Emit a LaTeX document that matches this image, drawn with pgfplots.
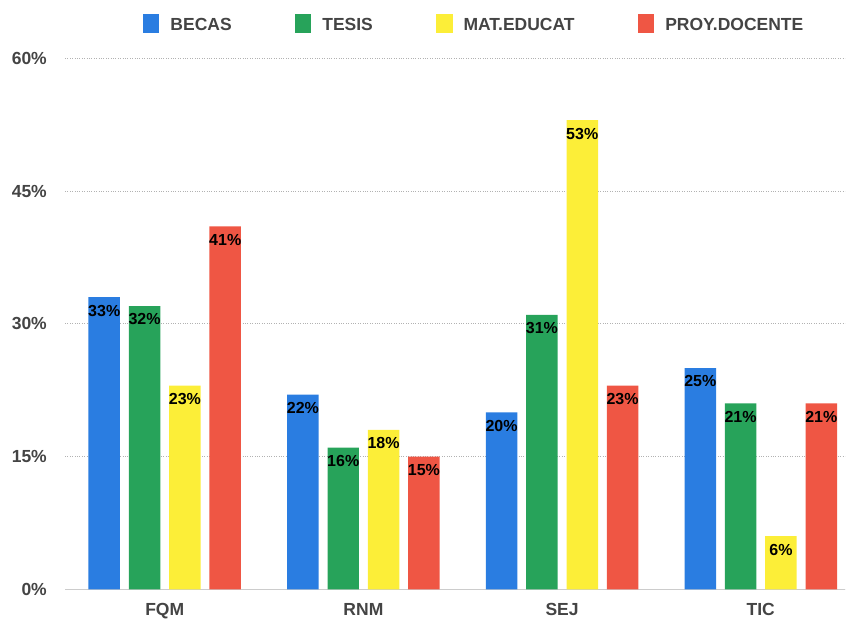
\documentclass[border=0pt]{standalone}
\usepackage{fontspec}
\setmainfont{Liberation Sans}
\usepackage{pgfplots}
\pgfplotsset{compat=1.18}
\definecolor{cblue}{HTML}{2A7DE1}
\definecolor{cgreen}{HTML}{27A35A}
\definecolor{cyellow}{HTML}{FCEE38}
\definecolor{cred}{HTML}{EF5644}
\definecolor{tgray}{HTML}{444444}
\begin{document}
\begin{tikzpicture}[x=1pt,y=1pt]
\path[use as bounding box] (0,0) rectangle (847,619);
\begin{axis}[
 at={(65pt,29.7pt)}, anchor=south west,
 scale only axis, width=780pt, height=531pt,
 xmin=-0.502, xmax=3.424, ymin=0, ymax=60,
 xtick={0,1,2,3}, xticklabels={FQM,RNM,SEJ,TIC},
 ytick={0,15,30,45,60}, yticklabels={0\%,15\%,30\%,45\%,60\%},
 ymajorgrids, grid style={dotted, gray!60, line width=0.6pt},
 axis x line*=bottom, axis y line*=left,
 x axis line style={-, draw=black!20, line width=1.2pt},
 y axis line style={draw=none},
 major tick length=0pt,
 /pgf/number format/assume math mode=true,
 tick label style={font=\fontsize{17.5}{20}\selectfont\bfseries, text=tgray, inner sep=0pt},
 yticklabel style={xshift=-18pt},
 xticklabel style={yshift=-13.5pt},
 ybar, bar width=0.1585,
 nodes near coords={\pgfmathprintnumber{\pgfplotspointmeta}\%},
 every node near coord/.append style={anchor=north, yshift=-7.5pt, font=\fontsize{16}{18}\selectfont\bfseries, text=black, inner sep=0pt},
 legend columns=-1,
 legend style={at={(0.0996,1.065)}, anchor=west, draw=none, fill=none, inner sep=0pt,
   font=\fontsize{17.5}{20}\selectfont\bfseries, text=tgray,
   nodes={inner sep=0pt},
   /tikz/every odd column/.append style={column sep=11pt},
   /tikz/every even column/.append style={column sep=63pt}},
 legend image code/.code={\fill[#1] (0pt,-8pt) rectangle (16.6pt,11pt);},
]
\addplot[fill=cblue, draw=none, bar shift=-0.3045] coordinates {(0,33) (1,22) (2,20) (3,25)};
\addplot[fill=cgreen, draw=none, bar shift=-0.1015] coordinates {(0,32) (1,16) (2,31) (3,21)};
\addplot[fill=cyellow, draw=none, bar shift=0.1015] coordinates {(0,23) (1,18) (2,53) (3,6)};
\addplot[fill=cred, draw=none, bar shift=0.3045] coordinates {(0,41) (1,15) (2,23) (3,21)};
\legend{BECAS,TESIS,MAT.EDUCAT,PROY.DOCENTE}
\end{axis}
\end{tikzpicture}
\end{document}
